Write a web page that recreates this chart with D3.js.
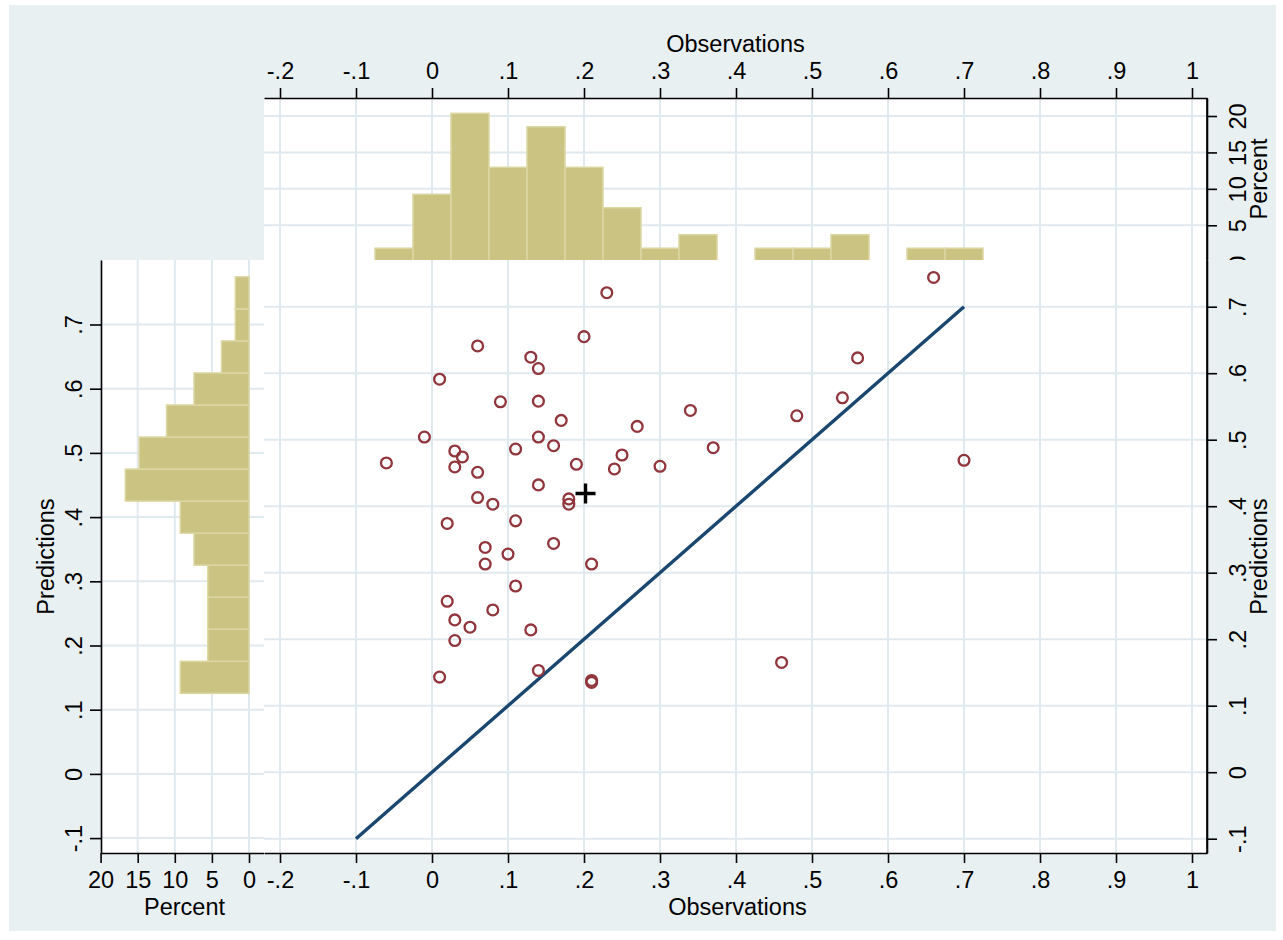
<!DOCTYPE html>
<html>
<head>
<meta charset="utf-8">
<script src="https://cdn.jsdelivr.net/npm/d3@7"></script>
<style>
  body { margin: 0; background: #fff; }
  svg text { font-family: "Liberation Sans", Arial, sans-serif; font-size: 23.5px; fill: #000; }
</style>
</head>
<body>
<div id="vis"></div>
<script>
// one entry per case: observed value and model prediction
var observations = [0.23, 0.20, 0.06, 0.13, 0.14, 0.01, 0.09, 0.14, 0.17, 0.27,
                    -0.01, 0.14, 0.16, 0.11, 0.03, 0.04, 0.25, -0.06, 0.19, 0.24,
                    0.30, 0.03, 0.06, 0.14, 0.18, 0.18, 0.06, 0.08, 0.02, 0.11,
                    0.16, 0.07, 0.10, 0.07, 0.21, 0.11, 0.02, 0.08, 0.03, 0.05,
                    0.13, 0.03, 0.14, 0.01, 0.21, 0.21, 0.34, 0.37, 0.48, 0.54,
                    0.56, 0.66, 0.70, 0.46];
var predictions = [0.721, 0.655, 0.641, 0.624, 0.607, 0.591, 0.557, 0.558, 0.529, 0.520,
                   0.504, 0.504, 0.491, 0.486, 0.483, 0.474, 0.477, 0.465, 0.463, 0.456,
                   0.460, 0.459, 0.451, 0.432, 0.411, 0.403, 0.413, 0.403, 0.374, 0.378,
                   0.344, 0.338, 0.328, 0.313, 0.313, 0.280, 0.257, 0.244, 0.229, 0.218,
                   0.214, 0.198, 0.153, 0.143, 0.138, 0.135, 0.544, 0.488, 0.536, 0.563,
                   0.623, 0.744, 0.469, 0.165];

// the + marker (means)
var meanObservation = 0.202;
var meanPrediction = 0.419;

// 45 degree reference line
var diagonalEnds = [-0.1, 0.7];

// top histogram: observations, percent per bin
var obsBinStart = -0.075;
var obsBinWidth = 0.05;
var obsPercent = [1.85, 9.26, 20.37, 12.96, 18.52, 12.96, 7.41, 1.85,
                  3.70, 0, 1.85, 1.85, 3.70, 0, 1.85, 1.85];

// left histogram: predictions, percent per bin (bottom bin first)
var predBinStart = 0.1255;
var predBinWidth = 0.0499;
var predPercent = [9.26, 5.56, 5.56, 5.56, 7.41, 9.26, 16.67, 14.81,
                   11.11, 7.41, 3.70, 1.85, 1.85];

// ticks
var obsTicks = [-0.2, -0.1, 0, 0.1, 0.2, 0.3, 0.4, 0.5, 0.6, 0.7, 0.8, 0.9, 1];
var predTicks = [-0.1, 0, 0.1, 0.2, 0.3, 0.4, 0.5, 0.6, 0.7];
var percentTicks = [0, 5, 10, 15, 20];

// stata style labels: .1 instead of 0.1
function fmt(v) {
  return String(+v.toFixed(2)).replace(/^(-?)0\./, "$1.");
}

var width = 1283, height = 940;
var bg = "#e9f0f2", grid = "#e0e9ed";
var barFill = "#cbc381", barEdge = "#dcd7a3";

var plotLeft = 264, plotRight = 1207, plotTop = 260, plotBottom = 853;
var topHistTop = 98, leftHistLeft = 101;

var svg = d3.select("#vis").append("svg")
  .attr("width", width)
  .attr("height", height);

svg.append("rect")
  .attr("x", 9).attr("y", 5)
  .attr("width", 1267).attr("height", 926)
  .attr("fill", bg);

// scales (anchored on tick positions, then stretched to the plot edges)
var x0 = d3.scaleLinear().domain([-0.2, 1]).range([280, 1192]);
var x = x0.copy().domain([x0.invert(plotLeft), x0.invert(plotRight)]).range([plotLeft, plotRight]);

var yS0 = d3.scaleLinear().domain([0, 0.7]).range([772.2, 306.7]);
var yScatter = yS0.copy().domain([yS0.invert(plotBottom), yS0.invert(plotTop)]).range([plotBottom, plotTop]);

var yL0 = d3.scaleLinear().domain([0.2, 0.7]).range([645.5, 324.5]);
var yLeft = yL0.copy().domain([yL0.invert(plotBottom), yL0.invert(plotTop)]).range([plotBottom, plotTop]);

var pT0 = d3.scaleLinear().domain([0, 20]).range([261.7, 116]);
var pctTop = pT0.copy().domain([pT0.invert(plotTop), pT0.invert(topHistTop)]).range([plotTop, topHistTop]);

var pL0 = d3.scaleLinear().domain([0, 20]).range([249, 100.6]);
var pctLeft = pL0.copy().domain([pL0.invert(plotLeft), pL0.invert(leftHistLeft)]).range([plotLeft, leftHistLeft]);

function styleAxis(g) {
  g.attr("font-size", null).attr("font-family", null);
  g.selectAll("path, line").attr("stroke", "#000").attr("stroke-width", 1.6);
}

function rotateLabels(g, offset) {
  g.selectAll(".tick text")
    .attr("transform", "rotate(-90)")
    .attr("x", 0)
    .attr("y", offset)
    .attr("dy", null)
    .attr("text-anchor", "middle");
}

/* top histogram */
var topHist = svg.append("g");

topHist.append("rect")
  .attr("x", plotLeft).attr("y", topHistTop)
  .attr("width", plotRight - plotLeft).attr("height", plotTop - topHistTop)
  .attr("fill", "#fff");

topHist.selectAll(".vgrid").data(obsTicks).enter().append("line")
  .attr("x1", function(d) { return x(d); }).attr("x2", function(d) { return x(d); })
  .attr("y1", topHistTop).attr("y2", plotTop)
  .attr("stroke", grid).attr("stroke-width", 2);

topHist.selectAll(".hgrid").data(percentTicks).enter().append("line")
  .attr("x1", plotLeft).attr("x2", plotRight)
  .attr("y1", function(d) { return pT0(d); }).attr("y2", function(d) { return pT0(d); })
  .attr("stroke", grid).attr("stroke-width", 2);

obsPercent.forEach(function(p, i) {
  if (p <= 0) return;
  var a = x(obsBinStart + i * obsBinWidth), b = x(obsBinStart + (i + 1) * obsBinWidth);
  topHist.append("rect")
    .attr("x", a).attr("width", b - a)
    .attr("y", pT0(p)).attr("height", pT0(0) - pT0(p))
    .attr("fill", barFill)
    .attr("stroke", barEdge)
    .attr("stroke-width", 1.5);
});

topHist.append("g")
  .attr("transform", "translate(0," + topHistTop + ")")
  .call(d3.axisTop(x).tickValues(obsTicks).tickFormat(fmt).tickSize(10).tickSizeOuter(0).tickPadding(9))
  .call(styleAxis);

topHist.append("g")
  .attr("transform", "translate(" + plotRight + ",0)")
  .call(d3.axisRight(pctTop).tickValues(percentTicks).tickFormat(fmt).tickSize(10).tickSizeOuter(0))
  .call(styleAxis)
  .call(rotateLabels, 39);

topHist.append("text")
  .attr("x", (plotLeft + plotRight) / 2).attr("y", 52)
  .attr("text-anchor", "middle")
  .text("Observations");

topHist.append("text")
  .attr("transform", "translate(1267," + ((topHistTop + plotTop) / 2) + ") rotate(-90)")
  .attr("text-anchor", "middle")
  .text("Percent");

/* left histogram */
var leftHist = svg.append("g");

leftHist.append("rect")
  .attr("x", leftHistLeft).attr("y", plotTop)
  .attr("width", plotLeft - leftHistLeft).attr("height", plotBottom - plotTop)
  .attr("fill", "#fff");

leftHist.selectAll(".vgrid").data(percentTicks).enter().append("line")
  .attr("x1", function(d) { return pL0(d); }).attr("x2", function(d) { return pL0(d); })
  .attr("y1", plotTop).attr("y2", plotBottom)
  .attr("stroke", grid).attr("stroke-width", 2);

leftHist.selectAll(".hgrid").data(predTicks).enter().append("line")
  .attr("x1", leftHistLeft).attr("x2", plotLeft)
  .attr("y1", function(d) { return yL0(d); }).attr("y2", function(d) { return yL0(d); })
  .attr("stroke", grid).attr("stroke-width", 2);

predPercent.forEach(function(p, i) {
  if (p <= 0) return;
  var lo = yLeft(predBinStart + i * predBinWidth), hi = yLeft(predBinStart + (i + 1) * predBinWidth);
  leftHist.append("rect")
    .attr("x", pL0(p)).attr("width", pL0(0) - pL0(p))
    .attr("y", hi).attr("height", lo - hi)
    .attr("fill", barFill)
    .attr("stroke", barEdge)
    .attr("stroke-width", 1.5);
});

leftHist.append("g")
  .attr("transform", "translate(" + leftHistLeft + ",0)")
  .call(d3.axisLeft(yLeft).tickValues(predTicks).tickFormat(fmt).tickSize(11).tickSizeOuter(0))
  .call(styleAxis)
  .call(rotateLabels, -19);

leftHist.append("g")
  .attr("transform", "translate(0," + plotBottom + ")")
  .call(d3.axisBottom(pctLeft).tickValues(percentTicks).tickFormat(fmt).tickSize(10).tickSizeOuter(0).tickPadding(8))
  .call(styleAxis);

leftHist.append("text")
  .attr("x", (leftHistLeft + plotLeft) / 2 + 2).attr("y", 915)
  .attr("text-anchor", "middle")
  .text("Percent");

leftHist.append("text")
  .attr("transform", "translate(54," + ((plotTop + plotBottom) / 2) + ") rotate(-90)")
  .attr("text-anchor", "middle")
  .text("Predictions");

/* scatter */
var scatter = svg.append("g");

// graph region of the scatter covers what lies beneath it
scatter.append("rect")
  .attr("x", plotLeft).attr("y", plotTop)
  .attr("width", 1276 - plotLeft).attr("height", 931 - plotTop)
  .attr("fill", bg);

scatter.append("rect")
  .attr("x", plotLeft).attr("y", plotTop)
  .attr("width", plotRight - plotLeft).attr("height", plotBottom - plotTop)
  .attr("fill", "#fff");

scatter.selectAll(".vgrid").data(obsTicks).enter().append("line")
  .attr("x1", function(d) { return x(d); }).attr("x2", function(d) { return x(d); })
  .attr("y1", plotTop).attr("y2", plotBottom)
  .attr("stroke", grid).attr("stroke-width", 2);

scatter.selectAll(".hgrid").data(predTicks).enter().append("line")
  .attr("x1", plotLeft).attr("x2", plotRight)
  .attr("y1", function(d) { return yScatter(d); }).attr("y2", function(d) { return yScatter(d); })
  .attr("stroke", grid).attr("stroke-width", 2);

scatter.append("path")
  .datum(diagonalEnds)
  .attr("d", d3.line().x(function(d) { return x(d); }).y(function(d) { return yScatter(d); }))
  .attr("fill", "none")
  .attr("stroke", "#1a476f")
  .attr("stroke-width", 3.4);

scatter.selectAll(".dot")
  .data(observations.map(function(o, i) { return [o, predictions[i]]; }))
  .enter().append("circle")
  .attr("class", "dot")
  .attr("cx", function(d) { return x(d[0]); })
  .attr("cy", function(d) { return yScatter(d[1]); })
  .attr("r", 5.4)
  .attr("fill", "none")
  .attr("stroke", "#90353b")
  .attr("stroke-width", 2.3);

var mx = x(meanObservation), my = yScatter(meanPrediction);
scatter.append("path")
  .attr("d", "M" + (mx - 10) + "," + my + "H" + (mx + 10) + "M" + mx + "," + (my - 10) + "V" + (my + 10))
  .attr("stroke", "#000")
  .attr("stroke-width", 3.4);

scatter.append("g")
  .attr("transform", "translate(0," + plotBottom + ")")
  .call(d3.axisBottom(x).tickValues(obsTicks).tickFormat(fmt).tickSize(10).tickSizeOuter(0).tickPadding(8))
  .call(styleAxis);

scatter.append("g")
  .attr("transform", "translate(" + plotRight + ",0)")
  .call(d3.axisRight(yScatter).tickValues(predTicks).tickFormat(fmt).tickSize(10).tickSizeOuter(0))
  .call(styleAxis)
  .call(rotateLabels, 39);

scatter.append("text")
  .attr("x", (plotLeft + plotRight) / 2 + 2).attr("y", 915)
  .attr("text-anchor", "middle")
  .text("Observations");

scatter.append("text")
  .attr("transform", "translate(1267," + ((plotTop + plotBottom) / 2) + ") rotate(-90)")
  .attr("text-anchor", "middle")
  .text("Predictions");

// the right axis line runs unbroken from the top histogram down
svg.append("line")
  .attr("x1", plotRight).attr("x2", plotRight)
  .attr("y1", topHistTop).attr("y2", plotBottom)
  .attr("stroke", "#000").attr("stroke-width", 1.6);
</script>
</body>
</html>
